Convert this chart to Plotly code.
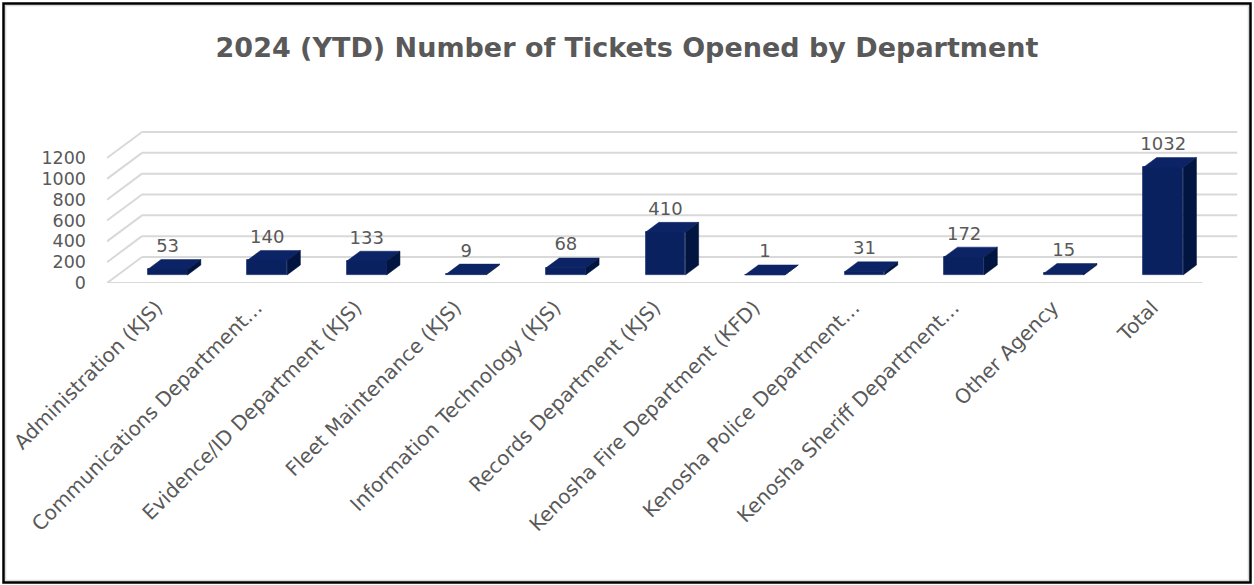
import plotly.graph_objects as go

# Ticket counts per department (2024 year-to-date)
categories = [
    "Administration (KJS)",
    "Communications Department…",
    "Evidence/ID Department (KJS)",
    "Fleet Maintenance (KJS)",
    "Information Technology (KJS)",
    "Records Department (KJS)",
    "Kenosha Fire Department (KFD)",
    "Kenosha Police Department…",
    "Kenosha Sheriff Department…",
    "Other Agency",
    "Total",
]
tickets = [53, 140, 133, 9, 68, 410, 1, 31, 172, 15, 1032]
y_ticks = [0, 200, 400, 600, 800, 1000, 1200]

# --- layout geometry (pixels) ---
W, H = 1254, 585
M_L, M_R, M_T, M_B = 107, 12, 127, 302
X_MAX = 11.4
PX_X = (W - M_L - M_R) / X_MAX          # pixels per category slot
PX_Y = 125 / 1200                        # pixels per ticket
Y_MAX = (H - M_T - M_B) / PX_Y

# oblique depth of the floor/back wall, in data units
DX = 35 / PX_X
DY = 26 / PX_Y
F0, F1 = 0.31, 0.69                       # bar front/back depth fraction
BAR_W = 0.40
LABEL_GAP = 3 / PX_Y                      # extra lift of the value labels

NAVY = "#0a2160"
NAVY_TOP = "#0c2465"
NAVY_SIDE = "#021540"
GRID = "#d9d9d9"
TXT = "#595959"
FONT = "DejaVu Sans"

fig = go.Figure()

# gridlines: back wall, left wall and front floor edge (kept beneath the bars)
n = len(categories)
for g in y_ticks:
    fig.add_shape(type="line", xref="x", yref="y", layer="below",
                  x0=DX, x1=n + DX, y0=g + DY, y1=g + DY,
                  line=dict(color=GRID, width=2))
    fig.add_shape(type="line", xref="x", yref="y", layer="below",
                  x0=0, x1=DX, y0=g, y1=g + DY,
                  line=dict(color=GRID, width=2))
fig.add_shape(type="line", xref="x", yref="y", layer="below",
              x0=0, x1=n, y0=0, y1=0, line=dict(color=GRID, width=2))

# bar geometry
base = F0 * DY
ddx = (F1 - F0) * DX
ddy = (F1 - F0) * DY
centers = [i + 0.5 + F0 * DX for i in range(n)]

# front faces
fig.add_trace(go.Bar(x=centers, y=tickets, base=base, width=BAR_W,
                     marker=dict(color=NAVY, line=dict(color="#1b3270", width=0.8)),
                     showlegend=False, cliponaxis=False))

# top and side faces
tx, ty, sx, sy = [], [], [], []
for c, v in zip(centers, tickets):
    xl, xr = c - BAR_W / 2, c + BAR_W / 2
    top = base + v
    tx += [xl, xr, xr + ddx, xl + ddx, xl, None]
    ty += [top, top, top + ddy, top + ddy, top, None]
    sx += [xr, xr, xr + ddx, xr + ddx, xr, None]
    sy += [base, top, top + ddy, base + ddy, base, None]
fig.add_trace(go.Scatter(x=tx, y=ty, mode="lines", fill="toself", fillcolor=NAVY_TOP,
                         line=dict(color=NAVY_TOP, width=0.5), hoverinfo="skip",
                         cliponaxis=False, showlegend=False))
fig.add_trace(go.Scatter(x=sx, y=sy, mode="lines", fill="toself", fillcolor=NAVY_SIDE,
                         line=dict(color=NAVY_SIDE, width=0.5), hoverinfo="skip",
                         cliponaxis=False, showlegend=False))

# value labels above each bar
fig.add_trace(go.Scatter(x=centers, y=[base + v + ddy + LABEL_GAP for v in tickets],
                         mode="text", text=[str(v) for v in tickets],
                         textposition="top center",
                         textfont=dict(family=FONT, size=18, color=TXT),
                         hoverinfo="skip", cliponaxis=False, showlegend=False))

# chart border
def px2paper_x(p):
    return (p - M_L) / (W - M_L - M_R)

def px2paper_y(p):
    return (H - M_B - p) / (H - M_T - M_B)

fig.add_shape(type="rect", xref="paper", yref="paper",
              x0=px2paper_x(5.5), x1=px2paper_x(1248.5),
              y0=px2paper_y(5.5), y1=px2paper_y(580.5),
              line=dict(color="#d9d9d9", width=1.5))
fig.add_shape(type="rect", xref="paper", yref="paper",
              x0=px2paper_x(3.5), x1=px2paper_x(1250.5),
              y0=px2paper_y(3.5), y1=px2paper_y(582.5),
              line=dict(color="#000000", width=2.5))

fig.update_layout(
    width=W, height=H,
    margin=dict(l=M_L, r=M_R, t=M_T, b=M_B, autoexpand=False),
    paper_bgcolor="white", plot_bgcolor="white",
    bargap=0,
    title=dict(text="2024 (YTD) Number of Tickets Opened by Department",
               x=0.5, xanchor="center", xref="container",
               y=1 - 48 / H, yanchor="middle", yref="container",
               font=dict(family=FONT, size=27, color=TXT, weight="bold")),
    xaxis=dict(range=[0, X_MAX], showgrid=False, zeroline=False, showline=False,
               tickvals=[i + 0.5 for i in range(n)],
               ticktext=categories, tickangle=-45, ticks="",
               ticklabelstandoff=8,
               tickfont=dict(family=FONT, size=20, color=TXT)),
    yaxis=dict(range=[0, Y_MAX], showgrid=False, zeroline=False, showline=False,
               tickvals=y_ticks, ticks="", ticklabelstandoff=20,
               tickfont=dict(family=FONT, size=17.5, color=TXT)),
)

fig.write_html("out.html")
